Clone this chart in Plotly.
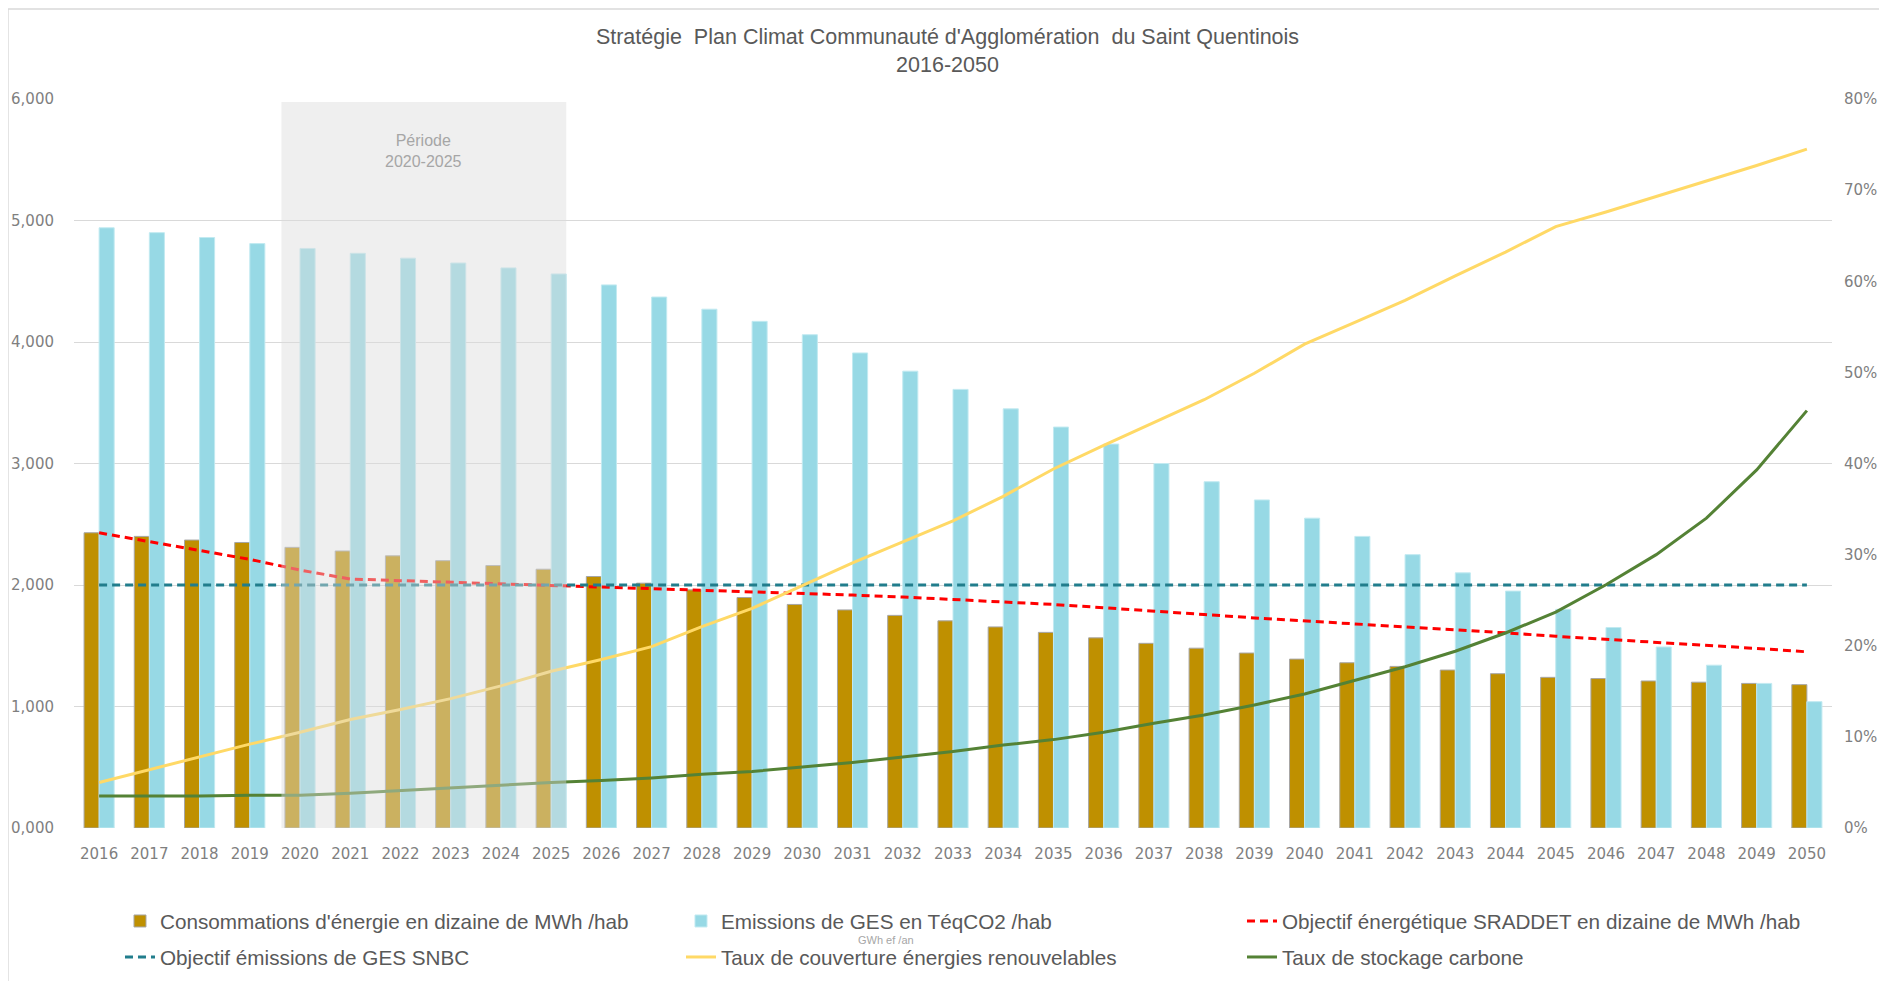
import plotly.graph_objects as go

years = list(range(2016, 2051))

# Consommations d'énergie (dizaine de MWh /hab)
conso = [2430, 2400, 2370, 2350, 2310, 2280, 2240, 2200, 2160, 2130,
         2070, 2015, 1960, 1897, 1840, 1795, 1750, 1705, 1655, 1610,
         1565, 1520, 1480, 1440, 1390, 1360, 1330, 1300, 1270, 1240,
         1230, 1210, 1200, 1190, 1180]

# Emissions de GES (TéqCO2 /hab)
emissions = [4940, 4900, 4860, 4810, 4770, 4730, 4690, 4650, 4610, 4560,
             4470, 4370, 4270, 4170, 4060, 3910, 3760, 3610, 3450, 3300,
             3160, 3000, 2850, 2700, 2550, 2400, 2250, 2100, 1950, 1800,
             1650, 1490, 1340, 1190, 1040]

# Objectif SRADDET
sraddet = [2430, 2357, 2286, 2211, 2123, 2049, 2036, 2023, 2010, 2000,
           1983, 1972, 1961, 1948, 1934, 1917, 1901, 1882, 1862, 1840,
           1813, 1788, 1757, 1729, 1705, 1681, 1657, 1629, 1606, 1578,
           1554, 1526, 1506, 1478, 1450]

# Objectif SNBC
snbc = [2000] * 35

# Taux de couverture EnR (%)
enr = [5.0, 6.4, 7.8, 9.2, 10.5, 11.9, 13.0, 14.2, 15.6, 17.2,
       18.5, 19.9, 22.1, 24.1, 26.6, 29.1, 31.4, 33.7, 36.4, 39.4,
       42.0, 44.5, 47.0, 49.9, 53.1, 55.5, 57.9, 60.6, 63.2, 66.0,
       67.6, 69.3, 71.0, 72.7, 74.5]

# Taux de stockage carbone (%)
stockage = [3.5, 3.5, 3.5, 3.6, 3.6, 3.8, 4.1, 4.4, 4.7, 5.0,
            5.2, 5.5, 5.9, 6.2, 6.7, 7.2, 7.8, 8.4, 9.1, 9.7,
            10.5, 11.5, 12.4, 13.5, 14.7, 16.2, 17.7, 19.4, 21.4, 23.7,
            26.7, 30.0, 34.0, 39.3, 45.8]

left_ticks = [0, 1000, 2000, 3000, 4000, 5000, 6000]
left_labels = ["0,000", "1,000", "2,000", "3,000", "4,000", "5,000", "6,000"]
right_ticks = [0, 10, 20, 30, 40, 50, 60, 70, 80]
right_labels = ["0%", "10%", "20%", "30%", "40%", "50%", "60%", "70%", "80%"]

sans = "Liberation Sans, Arial, sans-serif"
tickfont = dict(family="DejaVu Sans, Verdana, sans-serif", size=15, color="#7f7f7f")
legfont = dict(family=sans, size=20.7, color="#595959")

fig = go.Figure()

fig.add_trace(go.Bar(x=years, y=conso, name="Consommations d'énergie en dizaine de MWh /hab",
                     marker=dict(color="#bf9000", line=dict(color="#a6a6a6", width=1))))
fig.add_trace(go.Bar(x=years, y=emissions, name="Emissions de GES en TéqCO2 /hab",
                     marker=dict(color="#97d9e5", line=dict(color="#c2eaf1", width=1))))
fig.add_trace(go.Scatter(x=years, y=sraddet, mode="lines",
                         name="Objectif énergétique SRADDET en dizaine de MWh /hab",
                         line=dict(color="#ff0000", width=3, dash="8px,5px")))
fig.add_trace(go.Scatter(x=years, y=snbc, mode="lines", name="Objectif émissions de GES SNBC",
                         line=dict(color="#217d8c", width=3, dash="8px,5px"), legend="legend2"))
fig.add_trace(go.Scatter(x=years, y=enr, mode="lines", name="Taux de couverture énergies renouvelables",
                         line=dict(color="#ffd966", width=3), yaxis="y2", legend="legend2"))
fig.add_trace(go.Scatter(x=years, y=stockage, mode="lines", name="Taux de stockage carbone",
                         line=dict(color="#548235", width=3), yaxis="y2", legend="legend2"))

# zone grisée 2020-2025
fig.add_shape(type="rect", xref="x", yref="y", x0=2019.63, x1=2025.3, y0=-58, y1=5975,
              fillcolor="rgba(218,218,218,0.44)", line=dict(width=0), layer="above")
fig.add_annotation(x=2022.45, y=0.957, xref="x", yref="paper", showarrow=False,
                   text="Période<br>2020-2025", font=dict(family=sans, size=16, color="#a6a6a6"))

fig.add_annotation(x=(887 - 75) / 1757, y=(828 - 948) / 729, xref="paper", yref="paper",
                   showarrow=False, text="GWh ef /an",
                   font=dict(family=sans, size=11, color="#a6a6a6"))

# cadre du graphique
fig.add_shape(type="rect", xref="paper", yref="paper",
              x0=(9 - 75) / 1757, x1=(1900 - 75) / 1757,
              y0=(828 - 995) / 729, y1=(828 - 9) / 729,
              line=dict(color="#d9d9d9", width=1.5), layer="below")

fig.update_layout(
    width=1879, height=973,
    margin=dict(l=66, r=55, t=91, b=153),
    paper_bgcolor="white", plot_bgcolor="white",
    title=dict(text="Stratégie\u00a0 Plan Climat Communauté d'Agglomération\u00a0 du Saint Quentinois<br>2016-2050",
               x=0.5, xanchor="center", y=0.963, yanchor="top",
               font=dict(family=sans, size=21.5, color="#595959")),
    barmode="group", bargap=0.4, bargroupgap=0,
    xaxis=dict(range=[2015.5, 2050.5], tickmode="linear", dtick=1, showgrid=False,
               tickfont=tickfont, ticks="", showline=False, zeroline=False,
               ticklabelstandoff=15, automargin=False),
    yaxis=dict(range=[0, 6000], tickvals=left_ticks, ticktext=left_labels, tickfont=tickfont,
               showgrid=True, gridcolor="#d9d9d9", gridwidth=1, zeroline=False,
               ticklabelstandoff=19, automargin=False),
    yaxis2=dict(range=[0, 80], tickvals=right_ticks, ticktext=right_labels, overlaying="y", side="right",
                tickfont=tickfont, showgrid=False, zeroline=False, ticklabelstandoff=11, automargin=False),
    legend=dict(orientation="h", xref="container", yref="container", x=0.0596, xanchor="left",
                y=0.0822, yanchor="top", entrywidth=516, font=legfont, traceorder="normal"),
    legend2=dict(orientation="h", xref="container", yref="container", x=0.0596, xanchor="left",
                 y=0.0452, yanchor="top", entrywidth=516, font=legfont, traceorder="normal"),
    showlegend=True,
)

fig.write_html("out.html")
